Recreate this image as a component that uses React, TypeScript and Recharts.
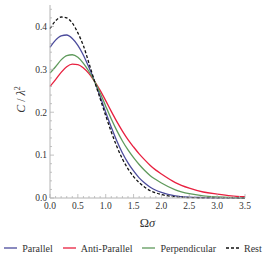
import { LineChart, Line, XAxis, YAxis } from "recharts";

// --- data ---
const omegaSigma = [
  0, 0.1, 0.2, 0.3, 0.4, 0.5, 0.6, 0.7, 0.8, 0.9, 1.0, 1.1, 1.2, 1.3, 1.4, 1.5, 1.6, 1.7, 1.8, 1.9, 2.0,
  2.25, 2.5, 2.75, 3.0, 3.25, 3.5,
];
const parallel = [
  0.351, 0.368, 0.378, 0.38, 0.372, 0.356, 0.333, 0.304, 0.272, 0.237, 0.2, 0.165, 0.133, 0.105, 0.082,
  0.063, 0.047, 0.035, 0.025, 0.018, 0.013, 0.005, 0.002, 0.001, 0.0004, 0.0001, 0,
];
const antiParallel = [
  0.26, 0.276, 0.293, 0.306, 0.312, 0.311, 0.303, 0.29, 0.272, 0.251, 0.227, 0.202, 0.178, 0.156, 0.136,
  0.119, 0.103, 0.089, 0.076, 0.065, 0.056, 0.036, 0.023, 0.014, 0.009, 0.005, 0.003,
];
const perpendicular = [
  0.291, 0.306, 0.322, 0.332, 0.334, 0.328, 0.314, 0.295, 0.272, 0.245, 0.214, 0.184, 0.157, 0.133, 0.112,
  0.094, 0.078, 0.064, 0.052, 0.043, 0.035, 0.019, 0.01, 0.005, 0.0025, 0.001, 0.0005,
];
const rest = [
  0.395, 0.413, 0.422, 0.42, 0.408, 0.385, 0.355, 0.314, 0.272, 0.232, 0.192, 0.154, 0.12, 0.091, 0.068,
  0.05, 0.036, 0.025, 0.017, 0.012, 0.008, 0.003, 0.001, 0.0005, 0.0002, 0.0001, 0,
];

const xTicks = Array.from({ length: 36 }, (_, i) => i / 10);
const yTicks = Array.from({ length: 23 }, (_, i) => i / 50);

const series = [
  { key: "parallel", name: "Parallel", color: "#4b4b9c", dash: undefined },
  { key: "antiParallel", name: "Anti-Parallel", color: "#e8203f", dash: undefined },
  { key: "perpendicular", name: "Perpendicular", color: "#5f9a5c", dash: undefined },
  { key: "rest", name: "Rest", color: "#111111", dash: "3 2" },
];

const rows = omegaSigma.map((x, i) => ({
  x,
  parallel: parallel[i],
  antiParallel: antiParallel[i],
  perpendicular: perpendicular[i],
  rest: rest[i],
}));

const FRAME = "#b4b4b4";
const TXT = "#333";
const FONT = "Liberation Serif";

const isMajorX = (v: number) => Math.round(v * 10) % 5 === 0;
const isMajorY = (v: number) => Math.round(v * 100) % 10 === 0;

function TickMark(props: any) {
  const { x, y, payload, side } = props;
  const v = payload.value;
  if (side === "bottom" || side === "top") {
    const len = isMajorX(v) ? 4 : 2;
    const dir = side === "bottom" ? -1 : 1;
    return (
      <g>
        <line x1={x} x2={x} y1={y} y2={y + dir * len} stroke={FRAME} strokeWidth={0.8} />
        {side === "bottom" && isMajorX(v) && (
          <text x={x} y={y + 11} textAnchor="middle" fontSize={9.5} fontFamily={FONT} fill={TXT}>
            {v.toFixed(1)}
          </text>
        )}
      </g>
    );
  }
  const len = isMajorY(v) ? 4 : 2;
  const dir = side === "left" ? 1 : -1;
  return (
    <g>
      <line x1={x} x2={x + dir * len} y1={y} y2={y} stroke={FRAME} strokeWidth={0.8} />
      {side === "left" && isMajorY(v) && (
        <text x={x - 3} y={y + 3.3} textAnchor="end" fontSize={9.5} fontFamily={FONT} fill={TXT}>
          {v.toFixed(1)}
        </text>
      )}
    </g>
  );
}

function YTitle(props: any) {
  const { viewBox } = props;
  const cx = viewBox.x + 21;
  const cy = viewBox.y + viewBox.height / 2 - 2;
  return (
    <text
      x={cx}
      y={cy}
      transform={`rotate(-90 ${cx} ${cy})`}
      textAnchor="middle"
      dominantBaseline="central"
      fontSize={12}
      fontFamily={FONT}
      fill={TXT}
    >
      <tspan fontStyle="italic">C</tspan>
      <tspan> / </tspan>
      <tspan fontStyle="italic">λ</tspan>
      <tspan fontSize={8} dy={-4}>2</tspan>
    </text>
  );
}

function XTitle(props: any) {
  const { viewBox } = props;
  const cx = viewBox.x + viewBox.width / 2;
  return (
    <text x={cx} y={viewBox.y + 29} textAnchor="middle" fontSize={12.5} fontFamily={FONT} fill={TXT}>
      <tspan>Ω</tspan>
      <tspan fontStyle="italic">σ</tspan>
    </text>
  );
}

function LegendRow() {
  return (
    <div
      style={{
        position: "absolute",
        left: 0,
        top: 240,
        width: 266,
        display: "flex",
        justifyContent: "center",
        gap: 10,
        fontFamily: FONT,
        fontSize: 10,
        color: TXT,
        whiteSpace: "nowrap",
      }}
    >
      {series.map((s) => (
        <div key={s.key} style={{ display: "flex", alignItems: "center", gap: 5 }}>
          <svg width={13} height={16}>
            <line x1={0} x2={13} y1={8} y2={8} stroke={s.color} strokeWidth={1.3} strokeDasharray={s.dash} />
          </svg>
          <span>{s.name}</span>
        </div>
      ))}
    </div>
  );
}

export default function App() {
  return (
    <div style={{ position: "absolute", left: 0, top: 0, width: 266, height: 261, background: "#fff" }}>
      <LineChart width={266} height={261} data={rows} margin={{ top: 5, right: 21, left: 0, bottom: 0 }}>
        <XAxis
          dataKey="x"
          type="number"
          domain={[0, 3.5]}
          ticks={xTicks}
          interval={0}
          tickSize={0}
          tickMargin={0}
          height={63}
          stroke={FRAME}
          tick={<TickMark side="bottom" />}
          label={<XTitle />}
        />
        <XAxis
          xAxisId="top"
          orientation="top"
          type="number"
          dataKey="x"
          domain={[0, 3.5]}
          ticks={xTicks}
          interval={0}
          tickSize={0}
          tickMargin={0}
          height={0}
          stroke={FRAME}
          tick={<TickMark side="top" />}
        />
        <YAxis
          type="number"
          domain={[0, 0.45]}
          ticks={yTicks}
          interval={0}
          tickSize={0}
          tickMargin={0}
          width={50}
          stroke={FRAME}
          tick={<TickMark side="left" />}
          label={<YTitle />}
        />
        <YAxis
          yAxisId="right"
          orientation="right"
          type="number"
          domain={[0, 0.45]}
          ticks={yTicks}
          interval={0}
          tickSize={0}
          tickMargin={0}
          width={0}
          stroke={FRAME}
          tick={<TickMark side="right" />}
        />
        {series.map((s) => (
          <Line
            key={s.key}
            type="monotone"
            dataKey={s.key}
            stroke={s.color}
            strokeWidth={1.3}
            strokeDasharray={s.dash}
            dot={false}
            isAnimationActive={false}
          />
        ))}
      </LineChart>
      <LegendRow />
    </div>
  );
}
